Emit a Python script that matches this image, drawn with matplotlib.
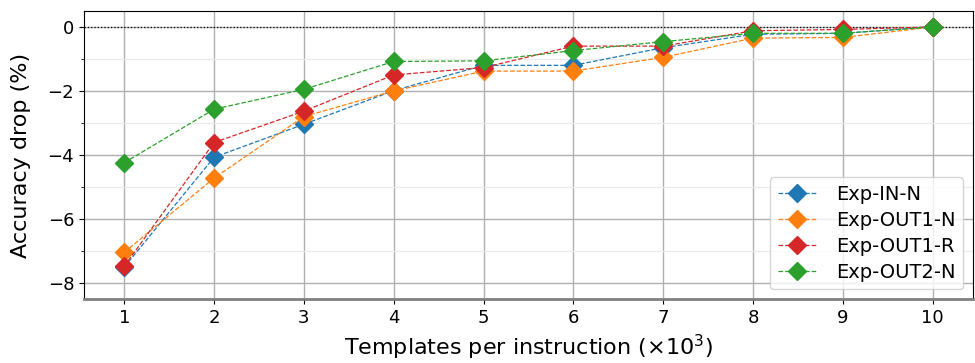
import matplotlib
matplotlib.use('Agg')
import matplotlib.pyplot as plt
from matplotlib.ticker import MultipleLocator


templates = [1, 2, 3, 4, 5, 6, 7, 8, 9, 10]

exp_in_n = [-7.5, -4.07, -3.04, -1.99, -1.2, -1.2, -0.65, -0.23, -0.2, 0.0]
exp_out1_n = [-7.04, -4.72, -2.8, -2.0, -1.38, -1.38, -0.95, -0.35, -0.33, 0.0]
exp_out1_r = [-7.47, -3.61, -2.63, -1.5, -1.27, -0.6, -0.6, -0.12, -0.08, 0.0]
exp_out2_n = [-4.24, -2.57, -1.95, -1.08, -1.06, -0.74, -0.46, -0.2, -0.2, 0.0]

series = [
    ('Exp-IN-N', exp_in_n, '#1f77b4'),
    ('Exp-OUT1-N', exp_out1_n, '#ff7f0e'),
    ('Exp-OUT1-R', exp_out1_r, '#d62728'),
    ('Exp-OUT2-N', exp_out2_n, '#2ca02c'),
]

fig = plt.figure(figsize=(9.75, 3.63), dpi=100)
ax = fig.add_axes([0.086, 0.176, 0.912, 0.794])

ax.axhline(0, color='black', linestyle=':', linewidth=0.9, zorder=1)

for label, values, color in series:
    ax.plot(templates, values, linestyle='--', linewidth=0.9, marker='D',
            markersize=9.5, color=color, label=label, zorder=3)

ax.set_xlim(0.55, 10.45)
ax.set_ylim(-8.5, 0.5)
ax.set_xticks(templates)
ax.yaxis.set_major_locator(MultipleLocator(2))
ax.yaxis.set_minor_locator(MultipleLocator(1))
ax.grid(which='major', color='#b0b0b0', linewidth=1.0)
ax.grid(which='minor', axis='y', color='#ebebeb', linewidth=0.8)
ax.set_axisbelow(True)
ax.tick_params(labelsize=13)

ax.spines['bottom'].set_color('#808080')
ax.spines['bottom'].set_linewidth(2)

ax.set_xlabel('Templates per instruction ($\\times10^3$)', fontsize=16)
ax.set_ylabel('Accuracy drop (%)', fontsize=16, labelpad=12)

ax.legend(loc='lower right', fontsize=14, handlelength=2.0,
          labelspacing=0.35, handletextpad=1.0)

plt.savefig('out.png', dpi=100)
